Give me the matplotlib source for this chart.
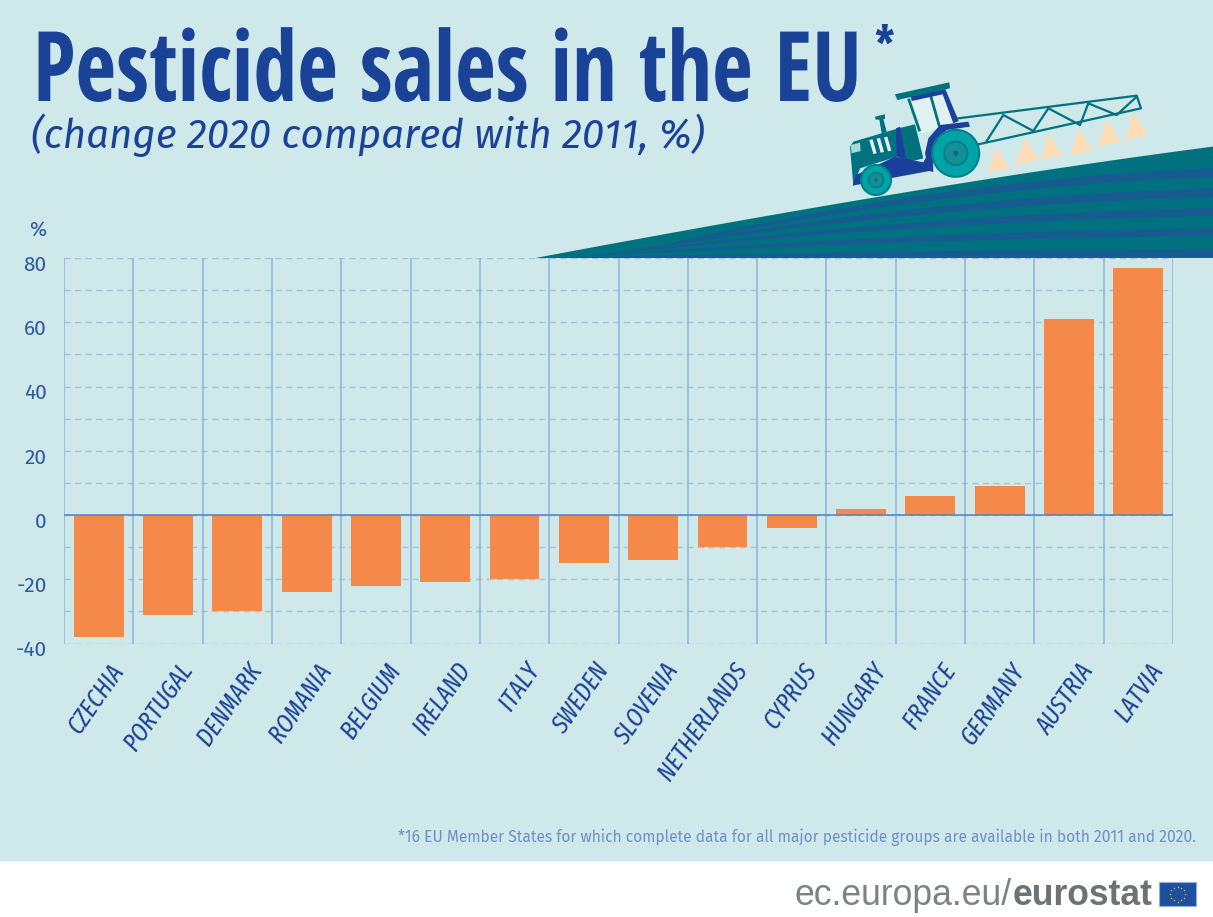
import matplotlib
matplotlib.use('Agg')
import matplotlib.pyplot as plt
import matplotlib.transforms as mtrans
import numpy as np
from matplotlib.patches import Polygon, Circle, Rectangle
from matplotlib.patheffects import AbstractPathEffect

countries = ['CZECHIA','PORTUGAL','DENMARK','ROMANIA','BELGIUM','IRELAND','ITALY','SWEDEN',
             'SLOVENIA','NETHERLANDS','CYPRUS','HUNGARY','FRANCE','GERMANY','AUSTRIA','LATVIA']
change = [-38,-31,-30,-24,-22,-21,-20,-15,-14,-10,-4,2,6,9,61,77]
y_ticks = [-40,-20,0,20,40,60,80]

W, H = 1213, 917
BG = '#cfe8ea'; BLUE = '#1a4296'; TICK = '#2f5aa3'; GRID = '#8db2dc'; DASH = '#a2c3e4'; BAR = '#f4894a'
TEAL = '#00727f'; STRIPE = '#175c90'; NAVY = '#1c3f9c'; WHEEL = '#00a3a6'; PALE = '#e0f1f2'
COND = ['Open Sans Condensed', 'Barlow Condensed', 'Fira Sans Extra Condensed', 'Liberation Sans']
XCOND = ['Fira Sans Extra Condensed', 'Fira Sans Condensed', 'Liberation Sans']
REG = ['Fira Sans', 'Open Sans']

class HScale(AbstractPathEffect):
    def __init__(self, sx):
        super().__init__()
        self.sx = sx
    def draw_path(self, renderer, gc, tpath, affine, rgbFace=None):
        renderer.draw_path(gc, tpath, mtrans.Affine2D().scale(self.sx, 1) + affine, rgbFace)

fig = plt.figure(figsize=(W/100, H/100), dpi=100, facecolor='white')
bg = fig.add_axes([0, 0, 1, 1], zorder=0)
bg.set_xlim(0, W); bg.set_ylim(H, 0); bg.axis('off')
bg.add_patch(Rectangle((0, 0), W, 861, fc=BG, ec='none'))

# chart
x0, x1, ytop, ybot = 64, 1173, 258, 643.5
ax = fig.add_axes([x0/W, 1-ybot/H, (x1-x0)/W, (ybot-ytop)/H], zorder=1)
ax.patch.set_alpha(0)
pos = np.arange(len(countries))
ax.set_xlim(-0.5, len(countries)-0.5); ax.set_ylim(-40, 80)
for v in np.arange(-40, 81, 10):
    ax.axhline(v, color=DASH, lw=1.0, dashes=(4.4, 3.2), zorder=1)
for b in np.arange(-0.5, len(countries), 1):
    ax.axvline(b, color=GRID, lw=1.1, zorder=1)
ax.bar(pos, change, width=0.72, color=BAR, zorder=3)
ax.axhline(0, color='#4f82c4', lw=1.1, zorder=4)
for s in ax.spines.values():
    s.set_visible(False)
ax.set_yticks(y_ticks)
ax.set_yticklabels([str(v) for v in y_ticks], fontsize=15, color=TICK, family=REG)
ax.tick_params(axis='y', which='both', length=0, pad=12.5)
shift = mtrans.ScaledTranslation(0, -5/100, fig.dpi_scale_trans)
for t in ax.get_yticklabels():
    t.set_transform(t.get_transform() + shift)
ax.set_xticks(pos + 0.14)
ax.set_xticklabels(countries, rotation=55, ha='right', va='top', rotation_mode='anchor',
                   fontsize=18.5, color=BLUE, family=XCOND, style='italic')
ax.tick_params(axis='x', length=0, pad=11)

# decoration layer: hill and tractor
fg = fig.add_axes([0, 0, 1, 1], zorder=2)
fg.set_xlim(0, W); fg.set_ylim(H, 0); fg.axis('off'); fg.patch.set_alpha(0)

hx = np.linspace(535, W, 120)
hy = np.polyval(np.polyfit([535, 700, 850, 1000, 1100, 1160, 1213], [258, 228, 201, 178, 162, 153, 147], 3), hx)
fg.add_patch(Polygon(np.r_[np.c_[hx, hy], [[W, 258], [535, 258]]], fc=TEAL, ec='none'))
for start, upper, lower in [(610, 168, 177), (590, 188, 197), (575, 208, 216), (562, 228, 236), (550, 249, 257)]:
    xs = np.linspace(start, W, 60)
    t = (xs-start)/(W-start)
    f = 1.7*t-0.7*t**2
    top = 258 + (upper-258)*f
    bot = 258 + (lower-258)*f
    fg.add_patch(Polygon(np.r_[np.c_[xs, top], np.c_[xs[::-1], bot[::-1]]], fc=STRIPE, ec='none'))

def Z(pts):
    return [(840+x/3, 75+y/3) for x, y in pts]
def P(pts, z=6, **kw):
    fg.add_patch(Polygon(Z(pts), zorder=z, ec=kw.pop('ec', 'none'), **kw))
def L(pts, z=5, color=TEAL, lw=1.6):
    q = np.array(Z(pts))
    fg.plot(q[:, 0], q[:, 1], color=color, lw=lw, zorder=z, solid_joinstyle='round')

for tri in [[(470,222),(438,292),(510,280)], [(555,190),(525,270),(595,255)], [(625,175),(603,255),(665,240)],
            [(715,160),(693,240),(760,225)], [(800,135),(772,215),(842,200)], [(880,115),(855,195),(925,180)]]:
    P(tri, z=4, fc='#fddcb5')
L([(355,130),(890,62),(903,100),(415,208)])
L([(440,198),(490,120),(580,168),(625,100),(720,150),(745,85),(830,120),(890,65)])
# cab
P([(207,72),(318,45),(352,135),(300,160),(245,175)], fc=PALE)
L([(207,75),(238,165)], z=7, lw=2)
L([(272,62),(297,150)], z=7, lw=2)
P([(212,64),(316,42),(356,138),(340,145),(308,58),(215,78)], z=7, fc=NAVY)
P([(165,58),(328,22),(330,40),(172,75)], z=8, fc=TEAL)
# body
P([(30,215),(40,200),(175,160),(225,148),(250,250),(205,262),(170,245),(60,280),(40,332)], fc=TEAL)
P([(105,125),(135,118),(135,132),(130,132),(140,170),(125,175),(118,134),(107,134)], fc=TEAL)
P([(168,160),(180,155),(198,252),(170,245)], z=7, fc=NAVY)
P([(38,332),(48,300),(165,245),(198,252),(250,262),(262,240),(280,290),(268,288),(150,310)], z=7, fc=NAVY)
P([(255,235),(265,190),(300,150),(385,140),(390,155),(320,165),(288,195),(278,235),(280,290),(268,288)], z=7, fc=NAVY)
P([(32,210),(60,203),(62,228),(35,235)], z=8, fc='#a9d8d8')
for i in range(3):
    P([(88+i*22,195-i*4),(98+i*22,193-i*4),(110+i*22,235-i*4),(100+i*22,237-i*4)], z=8, fc=PALE)
for (cx, cy, r) in [(955.7, 153.3, 23.5), (876, 180, 15)]:
    fg.add_patch(Circle((cx, cy), r, fc=WHEEL, ec='#00808a', lw=1.5, zorder=9))
    fg.add_patch(Circle((cx, cy), r*0.5, fc='#128f98', ec='#007c86', lw=1.2, zorder=10))
    fg.add_patch(Circle((cx, cy), r*0.1, fc='#00666f', ec='none', zorder=11))

# texts
title = bg.text(33, 101, 'Pesticide sales in the EU', fontsize=70, fontweight='bold', color=BLUE, family=COND, va='baseline')
title.set_path_effects([HScale(0.909)])
bg.text(874, 62, '*', fontsize=36, fontweight='bold', color=BLUE, family=XCOND, va='baseline')
bg.text(31, 148, '(change 2020 compared with 2011, %)', fontsize=29, style='italic', color=BLUE, family=REG, va='baseline')
bg.text(38, 231, '%', fontsize=15, color=TICK, family=REG, ha='center', va='center')
bg.text(1196, 842, '*16 EU Member States for which complete data for all major pesticide groups are available in both 2011 and 2020.',
        fontsize=11.2, color='#6c8fc4', family=REG, ha='right', va='baseline')
t1 = bg.text(795, 905, 'ec.europa.eu/', fontsize=25.6, color='#7f8285', family='Liberation Sans', va='baseline')
fig.canvas.draw()
ext = t1.get_window_extent()
bg.text(ext.x1, 905, 'eurostat', fontsize=25.6, color='#6f7275', fontweight='bold', family='Liberation Sans', va='baseline')
bg.add_patch(Rectangle((1159, 882), 37, 24, fc='#1f4f9f', ec='#8fb0d8', lw=0.8))
ang = np.arange(12)*np.pi/6
bg.scatter(1177.5+7.5*np.cos(ang), 894+7.5*np.sin(ang), s=3, color='#f2c81e', marker='*', linewidths=0, zorder=4)

fig.savefig('out.png', dpi=100, facecolor='white')
